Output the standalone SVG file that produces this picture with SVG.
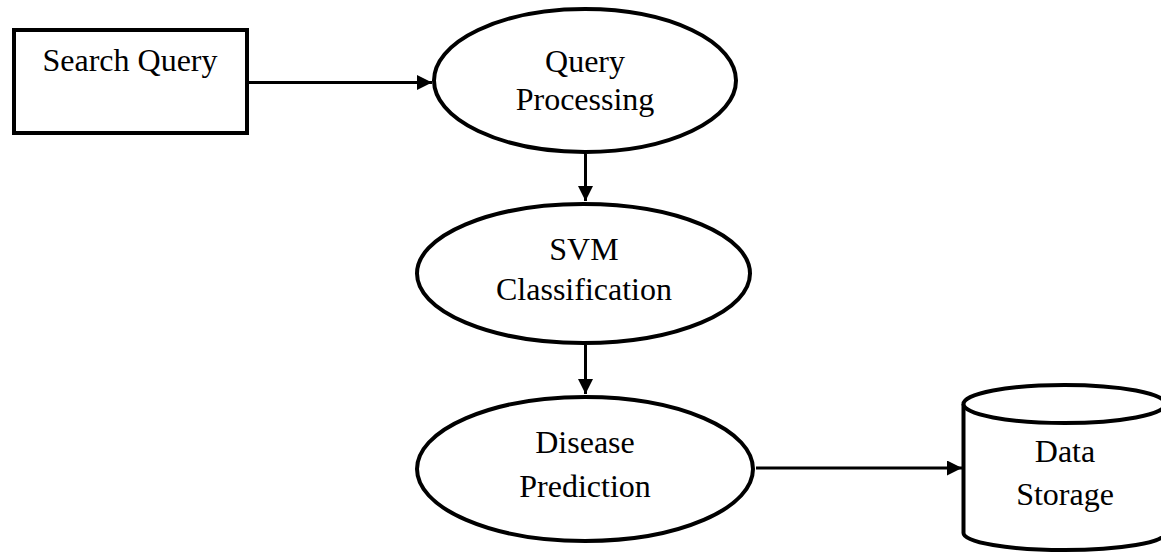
<svg xmlns="http://www.w3.org/2000/svg" width="1161" height="554" viewBox="0 0 1161 554">
  <style>
    .shape { fill: #ffffff; stroke: #000000; stroke-width: 4; }
    .label { font-family: "Liberation Serif", "Times New Roman", serif; font-size: 32px; fill: #000000; text-anchor: middle; }
    .link { fill: none; stroke: #000000; stroke-width: 3; }
  </style>
  <defs>
    <marker id="arrow" markerUnits="userSpaceOnUse" markerWidth="16" markerHeight="16" refX="15" refY="7.5" orient="auto">
      <path d="M0,0 L15,7.5 L0,15 Z" fill="#000000"/>
    </marker>
  </defs>
  <rect width="1161" height="554" fill="#ffffff"/>

  <!-- flow connectors -->
  <g id="connectors">
    <line class="link" x1="249" y1="82.5" x2="432" y2="82.5" marker-end="url(#arrow)"/>
    <line class="link" x1="585.5" y1="154" x2="585.5" y2="201" marker-end="url(#arrow)"/>
    <line class="link" x1="585.5" y1="345" x2="585.5" y2="394" marker-end="url(#arrow)"/>
    <line class="link" x1="756" y1="468" x2="962" y2="468" marker-end="url(#arrow)"/>
  </g>

  <g id="search-query">
    <rect class="shape" x="14" y="30" width="233" height="103"/>
    <text class="label" x="130" y="71">Search Query</text>
  </g>

  <g id="query-processing">
    <ellipse class="shape" cx="585" cy="80.5" rx="151" ry="71.5"/>
    <text class="label" x="585" y="72">Query</text>
    <text class="label" x="585" y="110">Processing</text>
  </g>

  <g id="svm-classification">
    <ellipse class="shape" cx="583.5" cy="273.5" rx="166.5" ry="69.5"/>
    <text class="label" x="584" y="260">SVM</text>
    <text class="label" x="584" y="300">Classification</text>
  </g>

  <g id="disease-prediction">
    <ellipse class="shape" cx="585" cy="469" rx="168" ry="72"/>
    <text class="label" x="585" y="453">Disease</text>
    <text class="label" x="585" y="497">Prediction</text>
  </g>

  <g id="data-storage">
    <path class="shape" d="M963.5,404 L963.5,533 A101,17 0 0 0 1165.5,533 L1165.5,404"/>
    <ellipse class="shape" cx="1064.5" cy="404" rx="101" ry="19"/>
    <text class="label" x="1065" y="462">Data</text>
    <text class="label" x="1065" y="505">Storage</text>
  </g>
</svg>
